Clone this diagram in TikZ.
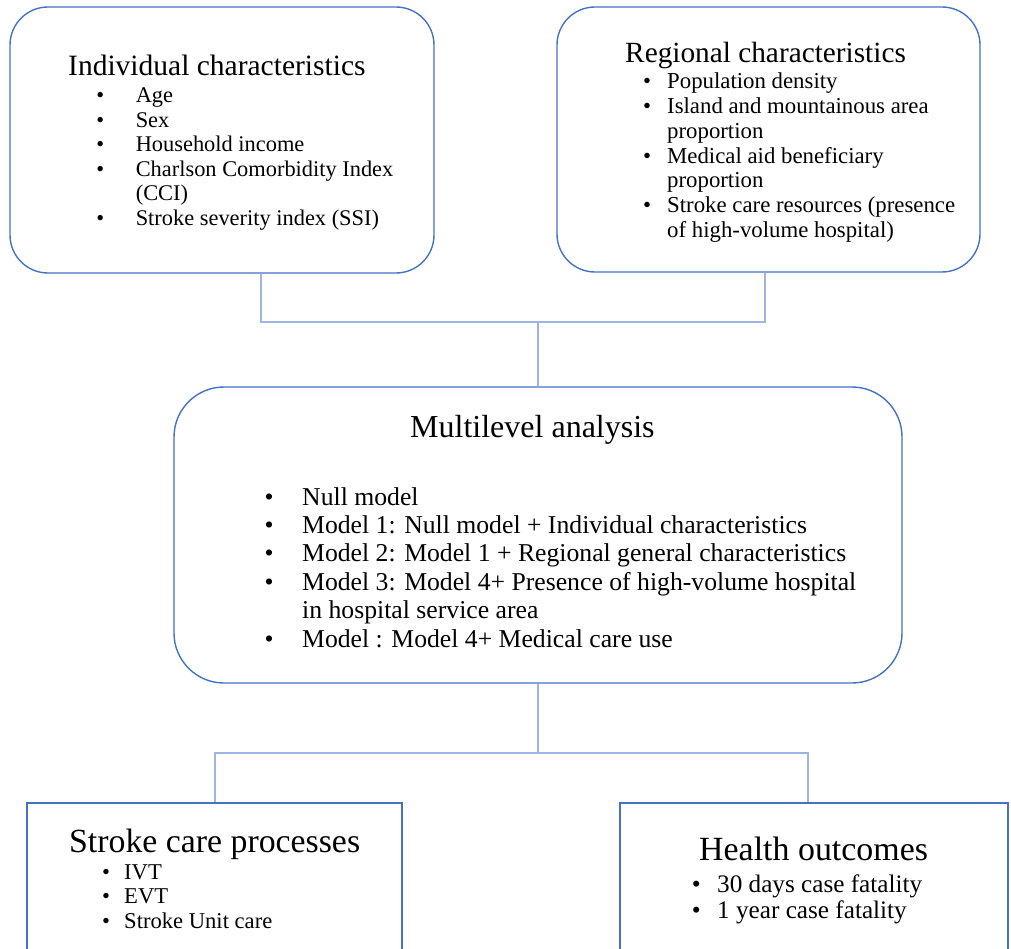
\documentclass[tikz,border=0pt]{standalone}
\usepackage{fontspec}
\setmainfont{Liberation Serif}
\usetikzlibrary{positioning}
\definecolor{frameblue}{HTML}{4472C4}
\definecolor{linkblue}{HTML}{9FB4E3}
\newlength{\bgap}
\newcommand{\bl}{\llap{\makebox[\bgap][l]{\textbullet}}}
\tikzset{roundbox/.style={draw=frameblue,line width=1.4pt,rounded corners=38pt,inner sep=0pt}, sqbox/.style={draw=frameblue,line width=1.3pt,inner sep=0pt}, link/.style={draw=linkblue,line width=1.3pt}, head/.style={anchor=base west,inner sep=0pt}, items/.style={anchor=base west,inner sep=0pt,align=left}}

\begin{document}
\begin{tikzpicture}[x=1pt,y=-1pt]
\path[fill=white] (0,0) rectangle (1011,949);
\useasboundingbox (0,0) rectangle (1011,949);
\clip (0,0) rectangle (1011,949);
\node[roundbox,minimum width=424pt,minimum height=266pt] (indiv) at (222,140) {};
\node[roundbox,minimum width=423pt,minimum height=265pt] (regional) at (768.5,139.5) {};
\node[roundbox,rounded corners=50pt,minimum width=728pt,minimum height=296pt] (multi) at (538,535) {};
\node[sqbox,minimum width=375pt,minimum height=200pt] (process) at (214.5,903) {};
\node[sqbox,minimum width=388pt,minimum height=200pt] (outcome) at (814,903) {};
\coordinate (ia) at (261,322);
\coordinate (rb) at (765,322);
\coordinate (pa) at (215,753);
\coordinate (ob) at (808,753);
\draw[link] (indiv.south -| ia) -- (ia) -- (rb) -- (regional.south -| rb);
\draw[link] (multi.north) -- (multi.north |- ia);
\draw[link] (multi.south) -- (multi.south |- pa);
\draw[link] (process.north -| pa) -- (pa) -- (ob) -- (outcome.north -| ob);
\node[head,font=\fontsize{29.5}{32}\selectfont] (indivhead) at (68,76) {Individual characteristics};
\node[items,font=\fontsize{22.4}{24.5}\selectfont] (indivlist) at (135.6,103) {\setlength{\bgap}{39.5pt}\begin{tabular}[t]{@{}l@{}}\bl Age\\ \bl Sex\\ \bl Household income\\ \bl Charlson Comorbidity Index\\ (CCI)\\ \bl Stroke severity index (SSI)\end{tabular}};
\node[head,font=\fontsize{29.3}{32}\selectfont] (regionalhead) at (625,63) {Regional characteristics};
\node[items,font=\fontsize{22.8}{24.7}\selectfont] (regionallist) at (667,89) {\setlength{\bgap}{24pt}\begin{tabular}[t]{@{}l@{}}\bl Population density\\ \bl Island and mountainous area\\ proportion\\ \bl Medical aid beneficiary\\ proportion\\ \bl Stroke care resources (presence\\ of high-volume hospital)\end{tabular}};
\node[head,font=\fontsize{32}{35}\selectfont] (multihead) at (410,437) {Multilevel analysis};
\node[items,font=\fontsize{25.7}{28.4}\selectfont] (multilist) at (302,505) {\setlength{\bgap}{37.5pt}\begin{tabular}[t]{@{}l@{}}\bl Null model\\ \bl Model 1: Null model + Individual characteristics\\ \bl Model 2: Model 1 + Regional general characteristics\\ \bl Model 3: Model 4+ Presence of high-volume hospital\\ in hospital service area\\ \bl Model : Model 4+ Medical care use\end{tabular}};
\node[head,font=\fontsize{33.8}{36}\selectfont] (processhead) at (69,852) {Stroke care processes};
\node[items,font=\fontsize{22.6}{24.5}\selectfont] (processlist) at (124,879) {\setlength{\bgap}{22pt}\begin{tabular}[t]{@{}l@{}}\bl IVT\\ \bl EVT\\ \bl Stroke Unit care\end{tabular}};
\node[head,font=\fontsize{33.9}{36}\selectfont] (outcomehead) at (699,860) {Health outcomes};
\node[items,font=\fontsize{25.2}{26}\selectfont] (outcomelist) at (717,892) {\setlength{\bgap}{25.4pt}\begin{tabular}[t]{@{}l@{}}\bl 30 days case fatality\\ \bl 1 year case fatality\end{tabular}};
\end{tikzpicture}
\end{document}
